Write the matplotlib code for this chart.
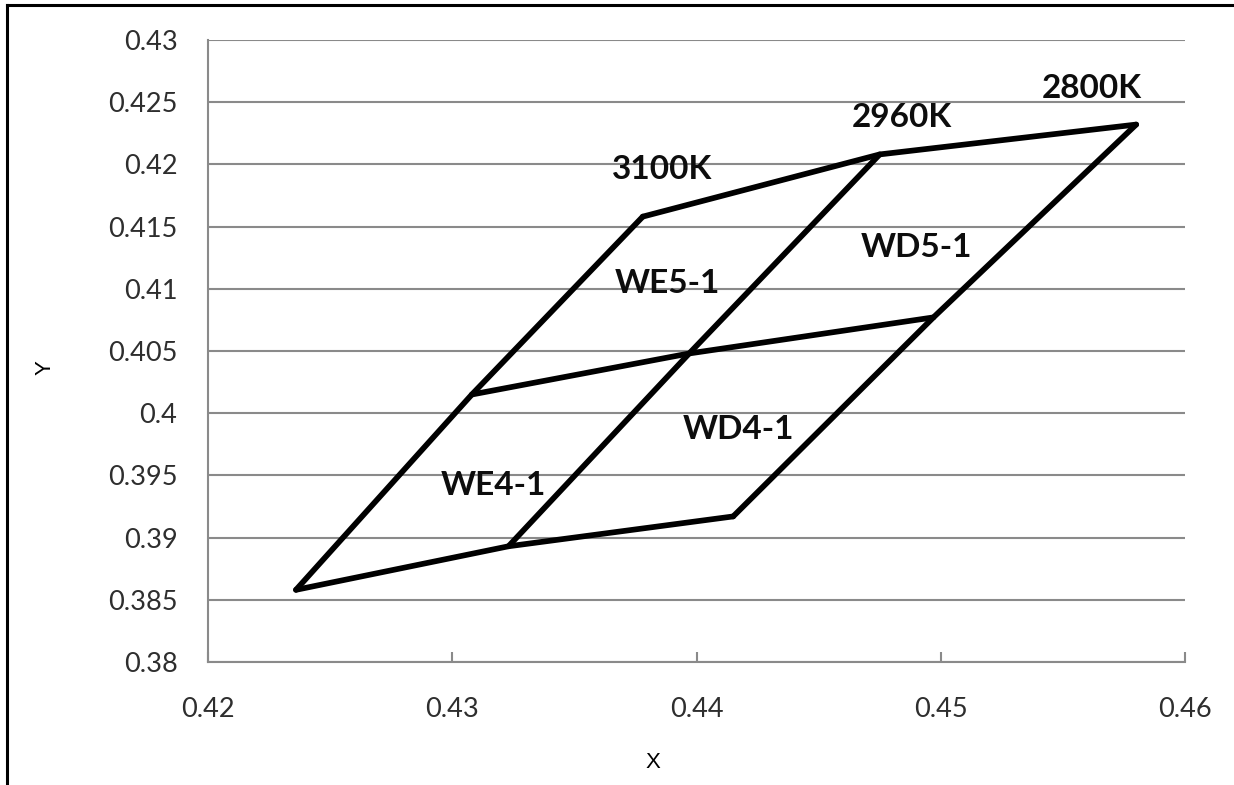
import matplotlib.pyplot as plt
from matplotlib.lines import Line2D

plt.rcParams['font.family'] = ['Lato', 'DejaVu Sans']

# CCT lines, points from bottom (WE4/WD4 edge) to top
cct_names = ["3100K", "2960K", "2800K"]
cct_x = [
    [0.4236, 0.4308, 0.4378],
    [0.4323, 0.4397, 0.4475],
    [0.4415, 0.4497, 0.4580],
]
cct_y = [
    [0.3858, 0.4015, 0.4158],
    [0.3893, 0.4048, 0.4208],
    [0.3917, 0.4077, 0.4232],
]

# text anchors (data coords)
cct_label_x = [0.4386, 0.4484, 0.4562]
cct_label_y = [0.4196, 0.4238, 0.4261]
bin_names = ["WE5-1", "WD5-1", "WE4-1", "WD4-1"]
bin_label_x = [0.4388, 0.4490, 0.4317, 0.4417]
bin_label_y = [0.4104, 0.4133, 0.3942, 0.3987]

x_ticks = [0.42, 0.43, 0.44, 0.45, 0.46]
y_ticks = [0.38, 0.385, 0.39, 0.395, 0.4, 0.405, 0.41, 0.415, 0.42, 0.425, 0.43]

GRID = '#8a8a8a'
LW = 4.1

fig = plt.figure(figsize=(12.34, 7.85), dpi=100)
ax = fig.add_axes([0.1686, 0.1567, 0.7917, 0.7924])

# constant-CCT lines
for xs, ys in zip(cct_x, cct_y):
    ax.plot(xs, ys, color='black', lw=LW, solid_capstyle='round',
            solid_joinstyle='round', zorder=3)
# connecting lines across the CCT lines
for i in range(3):
    xs = [row[i] for row in cct_x]
    ys = [row[i] for row in cct_y]
    ax.plot(xs, ys, color='black', lw=LW, solid_capstyle='round',
            solid_joinstyle='round', zorder=3)

for name, tx, ty in zip(cct_names, cct_label_x, cct_label_y):
    ax.text(tx, ty, name, ha='center', va='center', fontsize=24,
            fontweight='bold', color='#0d0d0d', zorder=4)
for name, tx, ty in zip(bin_names, bin_label_x, bin_label_y):
    ax.text(tx, ty, name, ha='center', va='center', fontsize=24,
            fontweight='bold', color='#0d0d0d', zorder=4)

ax.set_xlim(0.42, 0.46)
ax.set_ylim(0.38, 0.43)
ax.set_xticks(x_ticks)
ax.set_xticklabels([f"{v:g}" for v in x_ticks])
ax.set_yticks(y_ticks)
ax.set_yticklabels([f"{v:g}" for v in y_ticks])

ax.grid(axis='y', color=GRID, lw=1.5, zorder=1)
ax.set_axisbelow(True)
for side in ['top', 'right']:
    ax.spines[side].set_visible(False)
for side in ['left', 'bottom']:
    ax.spines[side].set_color(GRID)
    ax.spines[side].set_linewidth(1.5)

ax.tick_params(axis='x', direction='in', length=7, width=1.5, color=GRID,
               labelsize=19.5, labelcolor='#2e2e2e', pad=25)
ax.tick_params(axis='y', length=0, labelsize=19.5, labelcolor='#2e2e2e', pad=22)

ax.set_xlabel('X', fontsize=16, family='Liberation Sans')
ax.set_ylabel('Y', fontsize=16, family='Liberation Sans')
ax.xaxis.set_label_coords(0.4555, -0.161)
ax.yaxis.set_label_coords(-0.1668, 0.4727)
ax.xaxis.label.set_va('center')
ax.yaxis.label.set_va('center')

# chart area border
fig.add_artist(Line2D([7 / 1234, 7 / 1234], [0, 1 - 5 / 785],
                      transform=fig.transFigure, color='black', lw=2.2))
fig.add_artist(Line2D([7 / 1234, 1], [1 - 5 / 785, 1 - 5 / 785],
                      transform=fig.transFigure, color='black', lw=2.2))

fig.savefig('out.png', dpi=100)
